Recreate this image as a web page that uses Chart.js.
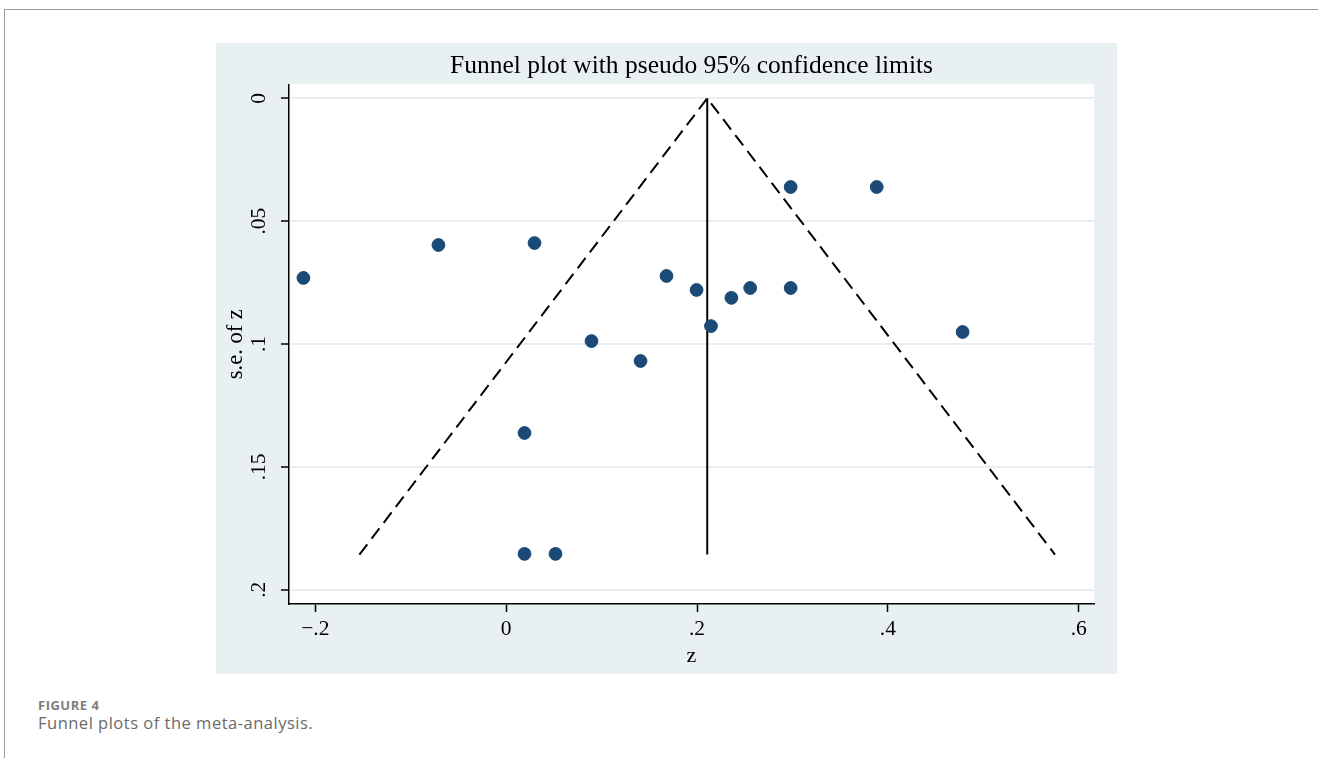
<!DOCTYPE html>
<html>
<head>
<meta charset="utf-8">
<script src="https://cdn.jsdelivr.net/npm/chart.js@4/dist/chart.umd.min.js"></script>
<style>
  html, body { margin: 0; padding: 0; background: #fff; }
  body { width: 1318px; height: 758px; position: relative; overflow: hidden; }
  .frame { position: absolute; left: 4px; top: 9px; right: -2px; bottom: -2px;
           border-left: 1.5px solid #9b9b9b; border-top: 1.5px solid #9b9b9b; }
  .wrap { position: absolute; left: 216px; top: 43px; width: 901px; height: 631px; background: #e8f0f2; }
  .cap1 { position: absolute; left: 38px; top: 696px; font: 700 13px "Open Sans", sans-serif;
          color: #7d7d7d; letter-spacing: 0.5px; }
  .cap2 { position: absolute; left: 38px; top: 711px; font: 16.5px "Open Sans", sans-serif;
          color: #6a6a6a; letter-spacing: 0.5px; }
</style>
</head>
<body>
<div class="frame"></div>
<div class="wrap"><canvas id="funnelChart" width="901" height="631"></canvas></div>
<div class="cap1">FIGURE 4</div>
<div class="cap2">Funnel plots of the meta-analysis.</div>
<script>
// study estimates (z) and their standard errors
const zValues  = [-0.2125, -0.071, 0.0297, 0.168, 0.1995, 0.236, 0.2557, 0.2981, 0.2981, 0.3883, 0.2146, 0.4783, 0.0894, 0.1408, 0.0192, 0.0192, 0.0517];
const seValues = [0.0731, 0.0597, 0.0589, 0.0723, 0.078, 0.0812, 0.0772, 0.0772, 0.0361, 0.0361, 0.0927, 0.0951, 0.0988, 0.1069, 0.1362, 0.1854, 0.1854];

// pooled estimate line and pseudo 95% limits
const pooledX  = [0.2107, 0.2107];
const pooledSe = [0, 0.1857];
const limitX   = [-0.1538, 0.2107, 0.5751];
const limitSe  = [0.1857, 0, 0.1857];

const xTicks = [-0.2, 0, 0.2, 0.4, 0.6];
const xTickLabels = ['\u2212.2', '0', '.2', '.4', '.6'];
const yTicks = [0, 0.05, 0.1, 0.15, 0.2];
const yTickLabels = ['0', '.05', '.1', '.15', '.2'];

const toPoints = (xs, ys) => xs.map((x, i) => ({ x: x, y: ys[i] }));

const serif = '"Liberation Serif", "Times New Roman", serif';

const plotBackground = {
  id: 'plotBackground',
  beforeDraw(chart) {
    const { ctx, chartArea } = chart;
    ctx.save();
    ctx.fillStyle = '#ffffff';
    ctx.fillRect(chartArea.left, chartArea.top, chartArea.right - chartArea.left, chartArea.bottom - chartArea.top);
    ctx.restore();
  }
};

const funnelChart = document.getElementById('funnelChart').getContext('2d');

new Chart(funnelChart, {
  type: 'scatter',
  data: {
    datasets: [
      {
        label: 'studies',
        data: toPoints(zValues, seValues),
        backgroundColor: '#1b4a76',
        borderColor: '#1b4a76',
        pointRadius: 6.4,
        order: 0
      },
      {
        label: 'pooled',
        data: toPoints(pooledX, pooledSe),
        showLine: true,
        borderColor: '#000',
        borderWidth: 2,
        pointRadius: 0,
        order: 1
      },
      {
        label: 'limits',
        data: toPoints(limitX, limitSe),
        showLine: true,
        borderColor: '#000',
        borderWidth: 2,
        borderDash: [13, 7],
        pointRadius: 0,
        order: 2
      }
    ]
  },
  options: {
    responsive: false,
    animation: false,
    layout: { padding: { left: 0, right: 23, top: 0, bottom: 0 } },
    plugins: {
      legend: { display: false },
      tooltip: { enabled: false },
      title: {
        display: true,
        fullSize: false,
        text: 'Funnel plot with pseudo 95% confidence limits',
        color: '#000',
        font: { family: serif, size: 25.5, weight: 'normal', lineHeight: 1.2 },
        padding: { top: 8, bottom: 2.7 }
      }
    },
    scales: {
      x: {
        type: 'linear',
        min: -0.2276,
        max: 0.616,
        afterBuildTicks: (scale) => { scale.ticks = xTicks.map(v => ({ value: v })); },
        afterFit: (scale) => { scale.height = 70; },
        border: { display: true, color: '#000', width: 1.5 },
        grid: { drawOnChartArea: false, drawTicks: true, tickLength: 8, tickColor: '#000', tickWidth: 1.5 },
        ticks: {
          color: '#000',
          padding: 4,
          maxRotation: 0,
          font: { family: serif, size: 21.5 },
          callback: (v, i) => xTickLabels[i]
        },
        title: {
          display: true,
          text: 'z',
          color: '#000',
          font: { family: serif, size: 22 },
          padding: { top: 0, bottom: 5 }
        }
      },
      y: {
        type: 'linear',
        reverse: true,
        min: -0.0057,
        max: 0.2058,
        afterBuildTicks: (scale) => { scale.ticks = yTicks.map(v => ({ value: v })); },
        afterFit: (scale) => { scale.width = 73; },
        border: { display: true, color: '#000', width: 1.5 },
        grid: { color: '#e6eef0', lineWidth: 2, drawTicks: true, tickLength: 8, tickColor: '#000', tickWidth: 1.5 },
        ticks: {
          color: '#000',
          padding: 8,
          minRotation: 90,
          maxRotation: 90,
          crossAlign: 'center',
          font: { family: serif, size: 21.5 },
          callback: (v, i) => yTickLabels[i]
        },
        title: {
          display: true,
          text: 's.e. of z',
          color: '#000',
          font: { family: serif, size: 22.5 },
          padding: { top: 6.5, bottom: 0 }
        }
      }
    }
  },
  plugins: [plotBackground]
});
</script>
</body>
</html>
